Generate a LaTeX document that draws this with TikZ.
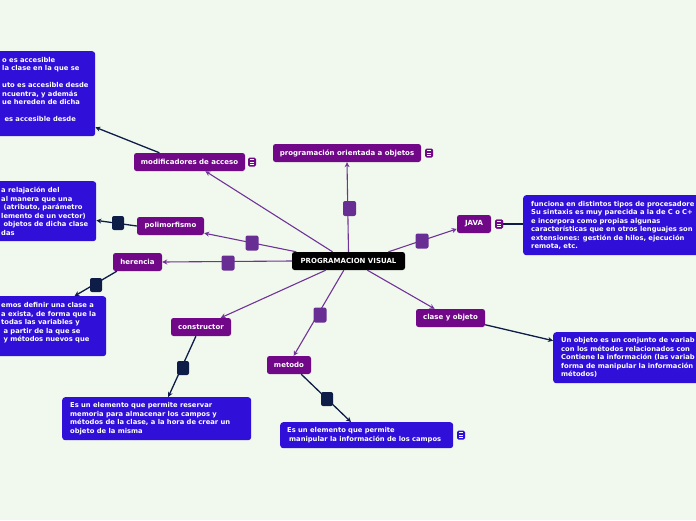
\documentclass[tikz,border=0pt]{standalone}
\usepackage{fontspec}
\setmainfont{DejaVu Sans}
\usetikzlibrary{arrows.meta}
\definecolor{bgc}{RGB}{241,249,238}
\definecolor{topicc}{RGB}{112,8,136}
\definecolor{boxc}{RGB}{48,16,216}
\definecolor{plinec}{RGB}{112,52,152}
\definecolor{handlec}{RGB}{104,46,148}
\definecolor{darkc}{RGB}{14,28,72}
\tikzset{
  topic/.style={fill=topicc, text=white, font=\bfseries\fontsize{7}{8}\selectfont,
    rounded corners=2.5pt, inner sep=0pt, minimum height=18pt},
  central/.style={topic, fill=black},
  bluebox/.style={fill=boxc, rounded corners=3pt, inner sep=0pt},
  boxtext/.style={text=white, font=\bfseries\fontsize{6.75}{8.5}\selectfont, align=left,
    inner sep=0pt, anchor=west},
  pline/.style={draw=plinec, line width=1.1pt, -{Stealth[length=5pt,width=5pt]}},
  dline/.style={draw=darkc, line width=1.3pt, -{Stealth[length=5pt,width=5pt]}},
  phandle/.style={fill=handlec, rounded corners=2pt, minimum width=13pt, minimum height=15pt, inner sep=0pt},
  dhandle/.style={fill=darkc, rounded corners=2pt, minimum width=12pt, minimum height=14pt, inner sep=0pt},
  icon/.style={fill=#1, rounded corners=1.5pt, minimum width=8pt, minimum height=9pt, inner sep=0pt,
    path picture={\foreach \yy in {-2.2,0,2.2}
      \draw[white, line width=0.8pt] ([xshift=-2pt,yshift=\yy pt]path picture bounding box.center) -- ++(4pt,0);}},
}
\begin{document}
\begin{tikzpicture}[x=1pt,y=-1pt]
\useasboundingbox[fill=bgc] (0,0) rectangle (696,520);

% topic nodes
\node[central, minimum width=113pt] (cen) at (348.5,261) {PROGRAMACION VISUAL};
\node[topic, minimum width=148pt] (prog) at (347,153) {programación orientada a objetos};
\node[topic, minimum width=111pt] (mod) at (189.5,162) {modificadores de acceso};
\node[topic, minimum width=67pt] (pol) at (170.5,226) {polimorfismo};
\node[topic, minimum width=49pt] (her) at (137.5,262) {herencia};
\node[topic, minimum width=60pt] (cons) at (201,327) {constructor};
\node[topic, minimum width=44pt] (met) at (289,365) {metodo};
\node[topic, minimum width=69pt] (cla) at (450.5,318) {clase y objeto};
\node[topic, minimum width=34pt] (java) at (474,224) {JAVA};

% icons
\node[icon=topicc] (modicon) at (252,162) {};
\node[icon=topicc] (progicon) at (429,153) {};
\node[icon=topicc] (javaicon) at (499,224) {};
\node[icon=boxc] (meticon) at (461,435) {};

% blue boxes
\node[bluebox, minimum width=103pt, minimum height=85pt, anchor=north west] (modbox) at (-8,51) {};
\node[boxtext] at ([xshift=10pt]modbox.west) {o es accesible\\ la clase en la que se\\ \mbox{}\\ uto es accesible desde\\ ncuentra, y además\\ ue hereden de dicha\\ \mbox{}\\ \ es accesible desde\\ \mbox{}};

\node[bluebox, minimum width=104pt, minimum height=60pt, anchor=north west] (polbox) at (-8,181) {};
\node[boxtext] at ([xshift=9pt]polbox.west) {a relajación del\\ al manera que una\\ \ (atributo, parámetro\\ lemento de un vector)\\ \ objetos de dicha clase\\ das};

\node[bluebox, minimum width=114pt, minimum height=60pt, anchor=north west] (herbox) at (-8,296) {};
\node[boxtext] at ([xshift=9pt]herbox.west) {emos definir una clase a\\ a exista, de forma que la\\ todas las variables y\\ \ a partir de la que se\\ \ y métodos nuevos que\\ \mbox{}};

\node[bluebox, minimum width=190pt, minimum height=60pt, anchor=north west] (javabox) at (523,195) {};
\node[boxtext] at ([xshift=8pt]javabox.west) {funciona en distintos tipos de procesadore\\ Su sintaxis es muy parecida a la de C o C+\\ e incorpora como propias algunas\\ características que en otros lenguajes son\\ extensiones: gestión de hilos, ejecución\\ remota, etc.};

\node[bluebox, minimum width=160pt, minimum height=51pt, anchor=north west] (clabox) at (553,332) {};
\node[boxtext] at ([xshift=8pt]clabox.west) {Un objeto es un conjunto de variab\\ con los métodos relacionados con\\ Contiene la información (las variab\\ forma de manipular la información\\ métodos)};

\node[bluebox, minimum width=189pt, minimum height=43pt, anchor=north west] (consbox) at (62,397) {};
\node[boxtext] at ([xshift=8pt]consbox.west) {Es un elemento que permite reservar\\ memoria para almacenar los campos y\\ métodos de la clase, a la hora de crear un\\ objeto de la misma};

\node[bluebox, minimum width=173pt, minimum height=26pt, anchor=north west] (metbox) at (280,422) {};
\node[boxtext] at ([xshift=7pt]metbox.west) {Es un elemento que permite\\ \hspace{2pt}manipular la información de los campos};

% purple connectors
\draw[pline] (cen.north) -- (prog.south);
\draw[pline] (cen.150) -- (mod.-30);
\draw[pline] (cen.170) -- (pol.-12);
\draw[pline] (cen.west) -- (her.east);
\draw[pline] (cen.-158) -- (cons.25);
\draw[pline] (cen.-117) -- (met.63);
\draw[pline] (cen.-26) -- (cla.150);
\draw[pline] (cen.13.5) -- (java.196);

% dark connectors
\draw[dline] (mod.163) -- (modbox.-33);
\draw[dline] (pol.west) -- (polbox.-10);
\draw[dline] (her.204) -- (herbox.50);
\draw[dline] (cons.241) -- (consbox.62);
\draw[dline] (met.-37) -- (metbox.140);
\draw[dline] (cla.-11) -- (clabox.168);
\draw[draw=darkc, line width=1.3pt] (javaicon.east) -- (javaicon.east -| javabox.west);
\node[icon=topicc] at (javaicon) {};

% handles
\node[phandle] (h1) at (349.5,208.5) {};
\node[phandle] (h2) at (252,243) {};
\node[phandle] (h3) at (228,263) {};
\node[phandle] (h4) at (320,315) {};
\node[phandle] (h5) at (422,241) {};
\node[dhandle] (d1) at (118,223) {};
\node[dhandle] (d2) at (96,285) {};
\node[dhandle] (d3) at (183,368) {};
\node[dhandle] (d4) at (327,399) {};
\end{tikzpicture}
\end{document}
